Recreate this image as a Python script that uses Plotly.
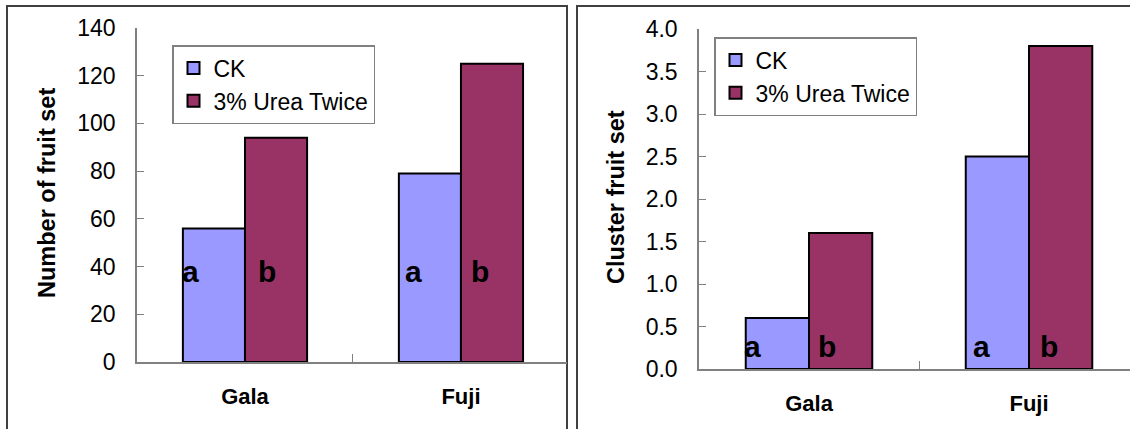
import plotly.graph_objects as go

# Fruit-set results for two apple cultivars
cultivars = ["Gala", "Fuji"]
treatments = ["CK", "3% Urea Twice"]
fruit_set_ck = [56, 79]
fruit_set_urea = [94, 125]
cluster_set_ck = [0.6, 2.5]
cluster_set_urea = [1.6, 3.8]
sig_letters_ck = ["a", "a"]
sig_letters_urea = ["b", "b"]

W, H = 1130, 429
FONT = "Arial, Liberation Sans, sans-serif"
CK_COLOR = "#9999FF"
UREA_COLOR = "#993366"
AXIS_GREY = "#808080"


def px_x(p):
    return p / W


def px_y(p):
    return 1 - p / H


fig = go.Figure()

panels = [
    ("x", "y", "legend", fruit_set_ck, fruit_set_urea),
    ("x2", "y2", "legend2", cluster_set_ck, cluster_set_urea),
]
for xa, ya, lg, ck_vals, urea_vals in panels:
    for name, vals, color in [(treatments[0], ck_vals, CK_COLOR),
                              (treatments[1], urea_vals, UREA_COLOR)]:
        fig.add_trace(go.Bar(
            x=cultivars, y=vals, name=name, xaxis=xa, yaxis=ya, legend=lg,
            marker=dict(color=color, line=dict(color="black", width=2)),
            hoverinfo="skip",
        ))

common_x = dict(
    type="category", showline=True, linecolor=AXIS_GREY, linewidth=1.5,
    ticks="inside", tickson="boundaries", ticklen=8, tickcolor=AXIS_GREY,
    tickwidth=1.2, showgrid=False, zeroline=False, fixedrange=True,
    automargin=False,
    tickfont=dict(family=FONT, size=22, color="black", weight="bold"),
    ticklabelstandoff=14,
)
common_y = dict(
    showline=True, linecolor=AXIS_GREY, linewidth=1.5, ticks="inside",
    ticklen=7, tickcolor=AXIS_GREY, tickwidth=1.2, showgrid=False,
    zeroline=False, fixedrange=True, automargin=False,
    tickfont=dict(family=FONT, size=23, color="black"),
    ticklabelstandoff=15,
)

legend_style = dict(
    xanchor="left", yanchor="top", bgcolor="white", bordercolor=AXIS_GREY,
    borderwidth=1.5, font=dict(family=FONT, size=23, color="black"),
    tracegroupgap=0,
)

fig.update_layout(
    width=W, height=H,
    margin=dict(l=0, r=0, t=0, b=0, pad=0, autoexpand=False),
    paper_bgcolor="white", plot_bgcolor="white",
    barmode="group", bargap=0.425, bargroupgap=0,
    xaxis=dict(common_x, domain=[px_x(137), px_x(567)], range=[-0.5, 1.491],
               anchor="y"),
    yaxis=dict(common_y, domain=[px_y(362), px_y(28)], range=[0, 140],
               tickvals=[0, 20, 40, 60, 80, 100, 120, 140], anchor="x"),
    xaxis2=dict(common_x, domain=[px_x(699), 1.0], range=[-0.5, 1.459],
                anchor="y2"),
    yaxis2=dict(common_y, domain=[px_y(369), px_y(29)], range=[0, 4],
                tickvals=[0, 0.5, 1, 1.5, 2, 2.5, 3, 3.5, 4],
                tickformat=".1f", anchor="x2"),
    legend=dict(legend_style, x=px_x(172), y=px_y(45)),
    legend2=dict(legend_style, x=px_x(714), y=px_y(37)),
    showlegend=True,
)

# Panel frames
for x0, x1 in [(7, 567), (577, 1140)]:
    fig.add_shape(type="rect", xref="paper", yref="paper",
                  x0=px_x(x0), x1=px_x(x1), y0=px_y(450), y1=px_y(6),
                  line=dict(color="#404040", width=2), layer="below")

# Axis titles
for text, xp, yp in [("Number of fruit set", 47, 193),
                     ("Cluster fruit set", 616, 197)]:
    fig.add_annotation(text=text, xref="paper", yref="paper",
                       x=px_x(xp), y=px_y(yp), showarrow=False, textangle=-90,
                       xanchor="center", yanchor="middle",
                       font=dict(family=FONT, size=23.5, color="black",
                                 weight="bold"))

# Significance letters inside the bars
letter_specs = [
    ("x", "y", 38, [(-0.25, 0.10), (-0.22, 0.09)]),
    ("x2", "y2", 0.26, [(-0.255, 0.08), (-0.215, 0.09)]),
]
for xa, ya, yv, offsets in letter_specs:
    for i, (off_ck, off_urea) in enumerate(offsets):
        for letter, off in [(sig_letters_ck[i], off_ck),
                            (sig_letters_urea[i], off_urea)]:
            fig.add_annotation(text=letter, xref=xa, yref=ya, x=i + off, y=yv,
                               showarrow=False, xanchor="center",
                               yanchor="middle",
                               font=dict(family=FONT, size=30, color="black",
                                         weight="bold"))

fig.write_html("out.html")
